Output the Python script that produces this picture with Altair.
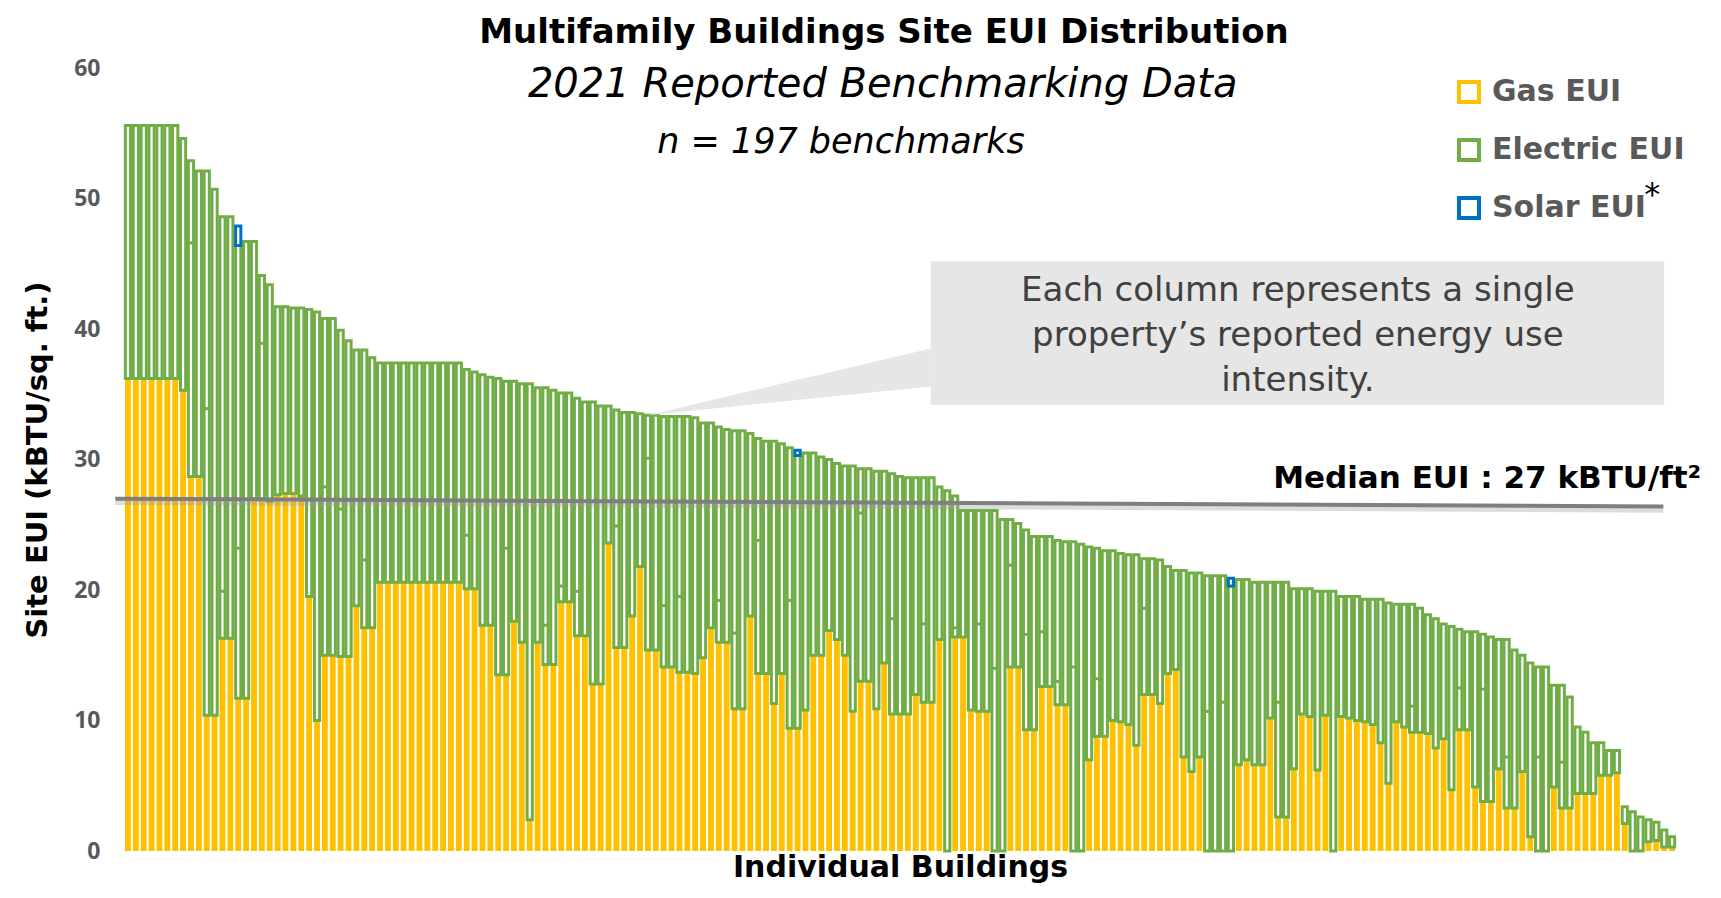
import altair as alt
import pandas as pd

# ---------------- data ----------------
total = [
    55.6, 55.6, 55.6, 55.6, 55.6, 55.6, 55.6, 54.6, 52.9, 52.1,
    52.1, 50.7, 48.6, 48.6, 47.9, 46.7, 46.7, 44.1, 43.4, 41.7,
    41.7, 41.6, 41.6, 41.5, 41.3, 40.8, 40.8, 39.9, 39.1, 38.4,
    38.4, 37.8, 37.4, 37.4, 37.4, 37.4, 37.4, 37.4, 37.4, 37.4,
    37.4, 37.4, 37.4, 36.9, 36.7, 36.5, 36.3, 36.2, 36.0, 36.0,
    35.8, 35.8, 35.5, 35.5, 35.3, 35.1, 35.1, 34.7, 34.4, 34.4,
    34.1, 34.1, 33.8, 33.6, 33.6, 33.5, 33.4, 33.4, 33.3, 33.3,
    33.3, 33.3, 33.2, 32.8, 32.8, 32.5, 32.3, 32.2, 32.2, 32.0,
    31.6, 31.4, 31.4, 31.2, 30.9, 30.7, 30.5, 30.5, 30.2, 30.0,
    29.7, 29.5, 29.5, 29.3, 29.3, 29.1, 29.1, 28.9, 28.7, 28.6,
    28.6, 28.6, 28.6, 27.9, 27.6, 27.2, 26.1, 26.1, 26.1, 26.1,
    26.1, 25.4, 25.4, 25.1, 24.6, 24.1, 24.1, 24.1, 23.8, 23.7,
    23.7, 23.5, 23.3, 23.2, 23.0, 23.0, 22.8, 22.7, 22.7, 22.4,
    22.4, 22.3, 21.8, 21.5, 21.5, 21.3, 21.3, 21.1, 21.1, 21.1,
    20.9, 20.8, 20.8, 20.6, 20.6, 20.6, 20.6, 20.6, 20.1, 20.1,
    20.1, 19.9, 19.9, 19.9, 19.5, 19.5, 19.5, 19.3, 19.3, 19.3,
    19.0, 18.9, 18.9, 18.9, 18.6, 18.1, 17.8, 17.4, 17.2, 17.0,
    16.8, 16.8, 16.6, 16.4, 16.2, 16.2, 15.4, 15.0, 14.4, 14.1,
    14.1, 12.7, 12.7, 11.8, 9.5, 9.1, 8.3, 8.3, 7.7, 7.7,
    3.4, 3.0, 2.6, 2.4, 2.2, 1.6, 1.1,
]

gas = [
    36.2, 36.2, 36.2, 36.2, 36.2, 36.2, 36.2, 35.3, 28.7, 28.7,
    10.4, 10.4, 16.3, 16.3, 11.7, 11.7, 27.0, 27.0, 26.8, 27.3,
    27.4, 27.4, 27.2, 19.5, 10.0, 15.0, 15.0, 14.9, 14.9, 18.8,
    17.1, 17.1, 20.6, 20.6, 20.6, 20.6, 20.6, 20.6, 20.6, 20.6,
    20.6, 20.6, 20.6, 20.1, 20.1, 17.3, 17.3, 13.5, 13.5, 17.6,
    16.0, 2.4, 16.0, 14.3, 14.3, 19.1, 19.1, 16.5, 16.5, 12.8,
    12.8, 23.6, 15.6, 15.6, 18.0, 21.8, 15.4, 15.4, 14.1, 14.1,
    13.7, 13.7, 13.6, 14.8, 17.1, 16.0, 16.0, 10.9, 10.9, 18.0,
    13.6, 13.6, 11.3, 13.6, 9.4, 9.4, 10.8, 15.0, 15.0, 16.9,
    16.2, 15.0, 10.7, 13.0, 13.0, 10.9, 14.4, 10.5, 10.5, 10.5,
    12.0, 11.4, 11.4, 16.2, 0.0, 16.4, 16.4, 10.8, 10.7, 10.7,
    0.0, 0.0, 14.1, 14.1, 9.3, 9.3, 12.6, 12.6, 11.2, 11.2,
    0.0, 0.0, 7.0, 8.8, 8.8, 10.0, 9.9, 9.7, 8.1, 12.0,
    12.0, 11.3, 13.6, 13.9, 7.2, 6.1, 7.2, 0.0, 0.0, 0.0,
    0.0, 6.6, 7.0, 6.6, 6.6, 10.2, 2.6, 2.6, 6.3, 10.5,
    10.3, 6.2, 10.4, 0.0, 10.3, 10.2, 10.0, 9.9, 9.7, 8.3,
    5.2, 9.9, 9.5, 9.1, 9.1, 9.0, 7.9, 8.6, 4.7, 9.3,
    9.3, 4.9, 3.8, 3.8, 6.3, 3.3, 3.3, 6.1, 1.1, 0.0,
    0.0, 4.9, 3.3, 3.3, 4.4, 4.4, 4.4, 5.8, 5.8, 6.0,
    2.1, 0.0, 0.0, 0.7, 0.8, 0.3, 0.3,
]

solar_bars = [14, 85, 140]
solar_vals = [1.5, 0.4, 0.6]

split_bars = [8, 10, 12, 14, 17, 25, 27, 30, 43, 48, 53, 55, 57, 62, 66, 68, 70,
              75, 77, 80, 84, 93, 97, 101, 105, 108, 110, 112, 114, 116, 118, 120,
              123, 129, 137, 139, 146, 163, 169, 172, 175, 179, 182]
split_vals = [46.6, 33.9, 19.9, 23.2, 38.9, 27.9, 26.2, 22.3, 24.2, 23.2, 17.3, 20.3,
              19.9, 24.9, 30.1, 18.8, 19.5, 19.2, 16.7, 23.8, 19.2, 25.9, 17.8, 17.4,
              17.1, 17.4, 14.0, 21.9, 16.6, 16.8, 13.0, 14.1, 13.2, 18.6, 10.7, 11.4,
              11.4, 11.1, 12.5, 12.4, 7.2, 7.2, 6.8]

series_names = ["Gas EUI", "Electric EUI", "Solar EUI"]
series_colors = ["#FFC000", "#70AD47", "#0070C0"]

median_value = [27.0, 26.4]          # left / right end of the drawn median line
median_span = [-1.6, 194.9]          # in building-index units
callout_lines = ["Each column represents a single",
                 "property\u2019s reported energy use",
                 "intensity."]

# ---------------- tables ----------------
n = len(total)
solar = [0.0] * n
for b, v in zip(solar_bars, solar_vals):
    solar[b] = v
df = pd.DataFrame({"i": list(range(n)), "gas": gas, "total": total, "solar": solar})
df["zero"] = 0.0
df["etop"] = df["total"] - df["solar"]
df["g0"] = df["i"] - 0.37
df["g1"] = df["i"] + 0.37
df["x0"] = df["i"] - 0.33
df["x1"] = df["i"] + 0.33
df["type"] = "Electric EUI"

solar_df = df[df["solar"] > 0].copy()
solar_df["type"] = "Solar EUI"

split_df = pd.DataFrame({"i": split_bars, "split": split_vals})
split_df["x0"] = split_df["i"] - 0.33
split_df["x1"] = split_df["i"] + 0.33

median_df = pd.DataFrame({"x": [median_span[0]], "x2": [median_span[1]],
                          "y": [median_value[0]], "y2": [median_value[1]]})
shadow_df = median_df.copy()
shadow_df["y"] = shadow_df["y"] - 0.25
shadow_df["y2"] = shadow_df["y2"] - 0.25

box_df = pd.DataFrame({"x": [101.9], "x2": [195.0], "y": [45.2], "y2": [34.2]})
wedge_df = pd.DataFrame({"x": [66.0, 101.9], "y": [33.4, 35.6], "y2": [33.4, 38.5]})
callout_df = pd.DataFrame({"x": [148.5] * 3, "y": [42.9, 39.5, 36.0], "t": callout_lines})
sub_df = pd.DataFrame({"x": [95.8], "y": [58.7], "t": ["2021 Reported Benchmarking Data"]})
n_df = pd.DataFrame({"x": [90.5], "y": [54.3], "t": ["n = 197 benchmarks"]})
med_lab_df = pd.DataFrame({"x": [199.7], "y": [28.5], "t": ["Median EUI : 27 kBTU/ft\u00b2"]})
star_df = pd.DataFrame({"x": [193.5], "y": [50.3], "t": ["*"]})

# ---------------- encodings ----------------
FONT = "Open Sans"
FB = "DejaVu Sans"
XS = alt.Scale(domain=[-0.5, 196.5], nice=False, zero=False)
YS = alt.Scale(domain=[0, 60], nice=False)
x_axis = alt.Axis(title="Individual Buildings", labels=False, ticks=False, domain=False,
                  grid=False, titleFont=FB, titleFontSize=30, titleFontWeight="bold",
                  titleColor="black", titlePadding=1)
y_axis = alt.Axis(title="Site EUI (kBTU/sq. ft.)", values=[0, 10, 20, 30, 40, 50, 60],
                  grid=False, domain=False, ticks=False, labelPadding=24,
                  labelFont=FONT, labelFontSize=23, labelFontWeight="bold",
                  labelColor="#595959", titleFont=FB, titleFontSize=29,
                  titleFontWeight="bold", titleColor="black", titlePadding=21)


def X(f):
    return alt.X(f"{f}:Q", scale=XS, axis=x_axis)


def Y(f):
    return alt.Y(f"{f}:Q", scale=YS, axis=y_axis)


stroke_scale = alt.Scale(domain=series_names, range=series_colors)
legend = alt.Legend(title=None, orient="none", legendX=1330, legendY=9,
                    symbolType="square", symbolSize=400, symbolStrokeWidth=4,
                    symbolFillColor="white", labelFont=FB, labelFontSize=30,
                    labelFontWeight="bold", labelColor="#595959", rowPadding=22,
                    labelOffset=8, labelLimit=400, padding=0)

gas_layer = alt.Chart(df).mark_bar(color="#FFC000").encode(
    x=X("g0"), x2="g1:Q", y=Y("zero"), y2="gas:Q")

elec_layer = alt.Chart(df).mark_bar(fill="white", strokeWidth=3.0).encode(
    x=X("x0"), x2="x1:Q", y=Y("gas"), y2="etop:Q",
    stroke=alt.Stroke("type:N", scale=stroke_scale, legend=legend))

solar_layer = alt.Chart(solar_df).mark_bar(fill="white", strokeWidth=3.0).encode(
    x=X("x0"), x2="x1:Q", y=Y("etop"), y2="total:Q",
    stroke=alt.Stroke("type:N", scale=stroke_scale, legend=legend))

split_layer = alt.Chart(split_df).mark_rule(color="#70AD47", strokeWidth=3.0).encode(
    x=X("x0"), x2="x1:Q", y=Y("split"))

shadow_layer = alt.Chart(shadow_df).mark_rule(color="#9a9a9a", strokeWidth=6, opacity=0.35).encode(
    x=X("x"), x2="x2:Q", y=Y("y"), y2="y2:Q")
median_layer = alt.Chart(median_df).mark_rule(color="#7F7F7F", strokeWidth=4).encode(
    x=X("x"), x2="x2:Q", y=Y("y"), y2="y2:Q")

wedge_layer = alt.Chart(wedge_df).mark_area(color="#E6E6E6").encode(
    x=X("x"), y=Y("y"), y2="y2:Q")
box_layer = alt.Chart(box_df).mark_rect(color="#E6E6E6").encode(
    x=X("x"), x2="x2:Q", y=Y("y"), y2="y2:Q")
callout_layer = alt.Chart(callout_df).mark_text(
    font=FB, fontSize=34, color="#404040", align="center", baseline="middle").encode(
    x=X("x"), y=Y("y"), text="t:N")

sub_layer = alt.Chart(sub_df).mark_text(
    font=FB, fontSize=40, fontStyle="italic", color="black", align="center",
    baseline="middle").encode(x=X("x"), y=Y("y"), text="t:N")
n_layer = alt.Chart(n_df).mark_text(
    font=FB, fontSize=35, fontStyle="italic", color="black", align="center",
    baseline="middle").encode(x=X("x"), y=Y("y"), text="t:N")
med_lab_layer = alt.Chart(med_lab_df).mark_text(
    font=FB, fontSize=31, fontWeight="bold", color="black", align="right",
    baseline="middle").encode(x=X("x"), y=Y("y"), text="t:N")
star_layer = alt.Chart(star_df).mark_text(
    font=FB, fontSize=32, color="black", align="center",
    baseline="middle").encode(x=X("x"), y=Y("y"), text="t:N")

chart = alt.layer(
    gas_layer, elec_layer, solar_layer, split_layer,
    wedge_layer, box_layer, callout_layer,
    shadow_layer, median_layer, med_lab_layer,
    sub_layer, n_layer, star_layer,
).properties(
    width=1552, height=783,
    autosize=alt.AutoSizeParams(type="none"),
    padding={"left": 116, "top": 60, "right": 32, "bottom": 34},
    title=alt.TitleParams(text="Multifamily Buildings Site EUI Distribution",
                          font=FB, fontSize=34, fontWeight="bold", color="black",
                          anchor="middle", offset=7, dx=-16),
).configure_view(stroke=None)

chart.save("out.html", embed_options={"renderer": "svg", "actions": False})
